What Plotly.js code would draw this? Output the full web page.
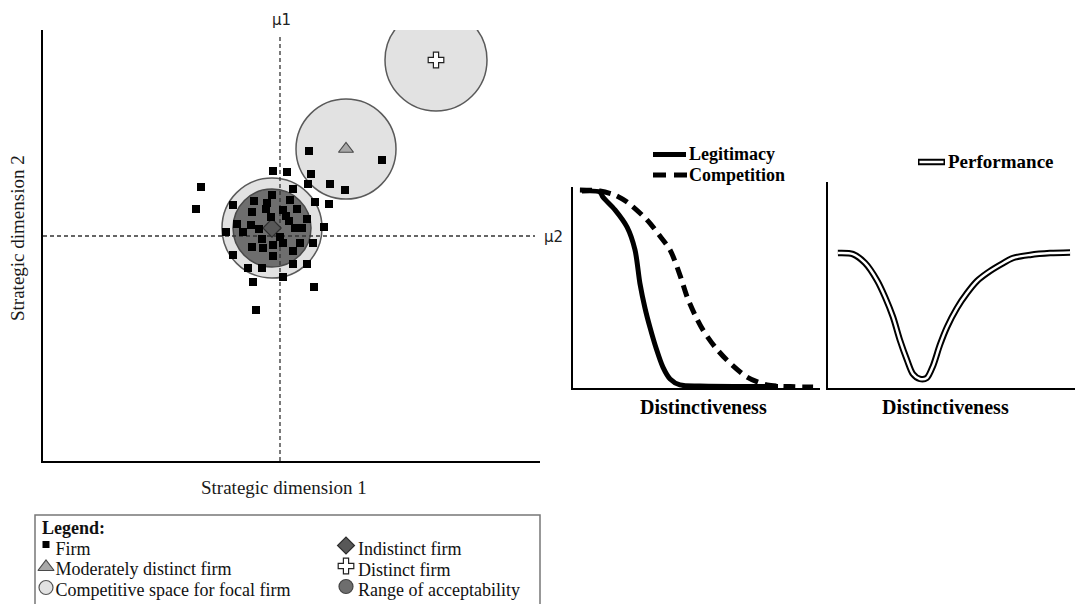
<!DOCTYPE html>
<html>
<head>
<meta charset="utf-8">
<script src="https://cdn.plot.ly/plotly-3.0.1.min.js"></script>
<style>html,body{margin:0;padding:0;background:#fff;}#chart{width:1082px;height:604px;}</style>
</head>
<body>
<div id="chart"></div>
<script>
// ---------- Data: strategic space (units: strategic dimension 1 / 2) ----------
var firmX = [53.2,67.8,46.0,48.8,53.6,53.0,57.4,60.4,50.0,31.6,30.6,38.0,42.2,45.8,49.4,54.4,57.2,44.8,44.6,41.8,48.0,50.8,45.6,48.6,52.8,38.8,41.6,40.0,43.2,49.2,50.4,51.8,56.2,36.6,43.8,47.4,48.0,51.4,54.0,41.8,44.0,46.0,50.0,38.0,46.0,41.0,43.8,50.0,52.8,48.0,42.0,54.2,42.6];
var firmY = [62.0,60.2,58.0,57.8,57.4,55.4,55.4,54.2,54.4,54.8,50.4,51.2,52.0,53.2,52.2,51.8,51.4,51.6,50.4,49.8,50.2,50.4,48.8,49.0,48.4,47.4,47.2,45.8,46.4,48.0,46.6,46.6,46.8,45.8,44.4,44.8,43.6,43.6,43.6,42.8,42.6,43.2,42.0,41.2,41.0,38.6,38.6,39.4,39.4,36.8,35.8,34.8,30.2];

var focalNames = ["Indistinct firm","Moderately distinct firm","Distinct firm"];
var focalX = [45.8, 60.6, 78.6];
var focalY = [46.6, 62.4, 80.2];
var focalSymbol = ["diamond","triangle-up","cross"];

// competitive-space circles and range of acceptability
var circleX = [45.8, 60.6, 78.6, 45.8];
var circleY = [46.6, 62.4, 80.2, 46.6];
var circleR = [10.0, 10.0, 10.2, 7.8];
var circleKind = ["space","space","space","range"];

var mu1 = 47.4;   // mean on strategic dimension 1
var mu2 = 45.0;   // mean on strategic dimension 2

// ---------- Data: distinctiveness curves ----------
var legitX = [0.36,1.09,1.21,1.70,2.19,2.51,2.71,2.91,3.12,3.36,3.64,3.93,4.33,5.14,6.5,8.3];
var legitY = [0.98,0.975,0.95,0.886,0.80,0.687,0.52,0.40,0.30,0.20,0.104,0.045,0.015,0.010,0.008,0.008];

var compX = [0.28,1.09,1.70,2.19,3.00,3.52,3.93,4.33,4.62,4.94,5.26,5.75,6.23,7.04,7.85,8.79,9.72];
var compY = [0.985,0.98,0.96,0.925,0.836,0.756,0.687,0.562,0.453,0.363,0.289,0.204,0.139,0.055,0.015,0.007,0.005];

var perfX = [0.40,1.01,1.50,1.98,2.31,2.63,2.91,3.20,3.44,3.72,4.00,4.25,4.53,4.82,5.22,5.63,6.03,6.44,6.96,7.49,8.18,8.99,9.80];
var perfY = [0.655,0.65,0.607,0.524,0.442,0.345,0.233,0.136,0.068,0.044,0.049,0.107,0.209,0.296,0.388,0.461,0.519,0.558,0.597,0.631,0.646,0.655,0.658];

// ---------- Text ----------
var xTitleMain = "Strategic dimension 1";
var yTitleMain = "Strategic dimension 2";
var muLabels = ["\u03bc1","\u03bc2"];
var curveNames = ["Legitimacy","Competition","Performance"];
var distTitle = "Distinctiveness";
var legendHeading = "Legend:";
var legendLeft = ["Firm","Moderately distinct firm","Competitive space for focal firm"];
var legendRight = ["Indistinct firm","Distinct firm","Range of acceptability"];

// ---------- Figure geometry (pixels) ----------
var W = 1082, H = 604;
function px(x){ return x / W; }
function py(y){ return 1 - y / H; }

var SERIF = "Liberation Serif, Times New Roman, serif";
var SANS = "DejaVu Sans, Liberation Sans, sans-serif";
var ROW = 20.5;               // legend row pitch in px
var BASE = ROW / 1.3;         // base font so that line pitch == ROW
var LFONT = 18;               // legend glyph font size
function big(t, sz){ return '<span style="font-size:' + sz + 'px">' + t + '</span>'; }

var traces = [];
// mu reference lines
traces.push({type:"scatter", mode:"lines", x:[mu1,mu1], y:[0,85.2], xaxis:"x", yaxis:"y",
  line:{color:"#333", width:1.3, dash:"4px,3px"}, hoverinfo:"skip", showlegend:false});
traces.push({type:"scatter", mode:"lines", x:[0,98.4], y:[mu2,mu2], xaxis:"x", yaxis:"y",
  line:{color:"#333", width:1.3, dash:"4px,3px"}, hoverinfo:"skip", showlegend:false});
// focal firms
var focalFill = ["#585858","#a8a8a8","#ffffff"];
var focalLine = ["#2e2e2e","#4a4a4a","#222"];
var focalSize = [14,13,13];
for (var i=0;i<focalX.length;i++){
  traces.push({type:"scatter", mode:"markers", name:focalNames[i], x:[focalX[i]], y:[focalY[i]], xaxis:"x", yaxis:"y",
    marker:{symbol:focalSymbol[i], size:focalSize[i], color:focalFill[i], line:{color:focalLine[i], width:1.2}}, showlegend:false});
}
// firms
traces.push({type:"scatter", mode:"markers", name:"Firm", x:firmX, y:firmY, xaxis:"x", yaxis:"y",
  marker:{symbol:"square", size:8, color:"#000"}, showlegend:false});

// curves
traces.push({type:"scatter", mode:"lines", name:curveNames[0], x:legitX, y:legitY, xaxis:"x2", yaxis:"y2",
  line:{color:"#000", width:5, shape:"spline", smoothing:0.8}, cliponaxis:false, showlegend:false});
traces.push({type:"scatter", mode:"lines", name:curveNames[1], x:compX, y:compY, xaxis:"x2", yaxis:"y2",
  line:{color:"#000", width:5, dash:"12px,7px", shape:"spline", smoothing:0.8}, cliponaxis:false, showlegend:false});
traces.push({type:"scatter", mode:"lines", name:curveNames[2], x:perfX, y:perfY, xaxis:"x3", yaxis:"y3",
  line:{color:"#000", width:6.5, shape:"spline", smoothing:0.8}, cliponaxis:false, showlegend:false});
traces.push({type:"scatter", mode:"lines", name:curveNames[2], x:perfX, y:perfY, xaxis:"x3", yaxis:"y3",
  line:{color:"#fff", width:2.5, shape:"spline", smoothing:0.8}, cliponaxis:false, showlegend:false, hoverinfo:"skip"});

// ---------- Legend glyphs (full-figure helper axis in pixels) ----------
var headY = 528;
var rowY = [headY + ROW, headY + 2*ROW, headY + 3*ROW];
var leftSymX = 46, rightSymX = 346;
var legLeftSym = [{symbol:"square",size:7,color:"#000",line:{width:0}},
                  {symbol:"triangle-up",size:14,color:"#a8a8a8",line:{color:"#4a4a4a",width:1.2}},
                  {symbol:"circle",size:14,color:"#e2e2e2",line:{color:"#555",width:1.2}}];
var legRightSym = [{symbol:"diamond",size:13,color:"#585858",line:{color:"#2e2e2e",width:1.2}},
                   {symbol:"cross",size:13,color:"#fff",line:{color:"#222",width:1.2}},
                   {symbol:"circle",size:14,color:"#6e6e6e",line:{color:"#444",width:1.2}}];
for (var k=0;k<3;k++){
  traces.push({type:"scatter", mode:"markers", x:[leftSymX], y:[rowY[k]-(k===0?4:2)], xaxis:"x4", yaxis:"y4",
    marker:legLeftSym[k], showlegend:false, hoverinfo:"skip", cliponaxis:false});
  traces.push({type:"scatter", mode:"markers", x:[rightSymX], y:[rowY[k]-3], xaxis:"x4", yaxis:"y4",
    marker:legRightSym[k], showlegend:false, hoverinfo:"skip", cliponaxis:false});
}
// curve legend samples
var legY1 = 154.5, legY2 = legY1 + ROW;
traces.push({type:"scatter", mode:"lines", x:[653,686], y:[legY1,legY1], xaxis:"x4", yaxis:"y4",
  line:{color:"#000", width:5}, showlegend:false, hoverinfo:"skip"});
traces.push({type:"scatter", mode:"lines", x:[653,687], y:[legY2,legY2], xaxis:"x4", yaxis:"y4",
  line:{color:"#000", width:5, dash:"13px,8px"}, showlegend:false, hoverinfo:"skip"});
traces.push({type:"scatter", mode:"lines", x:[918,945], y:[162,162], xaxis:"x4", yaxis:"y4",
  line:{color:"#000", width:6.5}, showlegend:false, hoverinfo:"skip"});
traces.push({type:"scatter", mode:"lines", x:[919.5,943.5], y:[162,162], xaxis:"x4", yaxis:"y4",
  line:{color:"#fff", width:2.5}, showlegend:false, hoverinfo:"skip"});

// ---------- Shapes: circles from data ----------
var shapes = [];
for (var c=0;c<circleX.length;c++){
  var isRange = circleKind[c] === "range";
  shapes.push({type:"circle", xref:"x", yref:"y", layer:"below",
    x0:circleX[c]-circleR[c], x1:circleX[c]+circleR[c], y0:circleY[c]-circleR[c], y1:circleY[c]+circleR[c],
    fillcolor: isRange ? "#6e6e6e" : "#e2e2e2", line:{color: isRange ? "#4a4a4a" : "#5a5a5a", width:1.5}});
}
// legend frame
shapes.push({type:"rect", xref:"paper", yref:"paper", x0:px(35), x1:px(540), y0:py(615), y1:py(515),
  line:{color:"#777", width:1.5}, fillcolor:"rgba(0,0,0,0)"});

// ---------- Annotations ----------
var ann = [];
function txt(t, x, y, opt){
  var a = {text:t, x:px(x), y:py(y), xref:"paper", yref:"paper", showarrow:false,
    xanchor:"center", yanchor:"middle", font:{family:SERIF, size:19, color:"#1a1a1a"}};
  for (var key in opt){ a[key] = opt[key]; }
  ann.push(a);
}
txt(muLabels[0], 281, 20, {font:{family:SANS, size:15, color:"#222"}});
txt(muLabels[1], 553, 237, {font:{family:SANS, size:15, color:"#222"}});
txt(xTitleMain, 284, 487, {font:{family:SERIF, size:19, color:"#1a1a1a"}});
txt(yTitleMain, 17, 238, {textangle:-90, font:{family:SERIF, size:19, color:"#1a1a1a"}});

// boxed legend: heading + left column in one block, right column in another
var pad = "\u00a0\u00a0\u00a0";
var leftLines = [big("<b>" + legendHeading + "</b>", LFONT)];
for (var r=0;r<legendLeft.length;r++){ leftLines.push(big(pad + legendLeft[r], LFONT)); }
txt(leftLines.join("<br>"), 40, (headY + rowY[2]) / 2, {xanchor:"left", align:"left",
  font:{family:SERIF, size:BASE, color:"#111"}});
var rightLines = [];
for (var r2=0;r2<legendRight.length;r2++){ rightLines.push(big(legendRight[r2], LFONT)); }
txt(rightLines.join("<br>"), 356, (rowY[0] + rowY[2]) / 2, {xanchor:"left", align:"left",
  font:{family:SERIF, size:BASE, color:"#111"}});

// curve legends
txt(big("<b>"+curveNames[0]+"</b>",LFONT) + "<br>" + big("<b>"+curveNames[1]+"</b>",LFONT), 687, (legY1+legY2)/2,
  {xanchor:"left", align:"left", font:{family:SERIF, size:BASE, color:"#000"}});
txt("<b>"+curveNames[2]+"</b>", 946, 162, {xanchor:"left", font:{family:SERIF, size:19, color:"#000"}});
txt("<b>"+distTitle+"</b>", 703, 407, {font:{family:SERIF, size:20, color:"#000"}});
txt("<b>"+distTitle+"</b>", 945, 407, {font:{family:SERIF, size:20, color:"#000"}});

function axisBase(domain, range, anchor){
  return {domain:domain, range:range, anchor:anchor, showline:true, linecolor:"#000", linewidth:2,
    showgrid:false, zeroline:false, showticklabels:false, ticks:"", fixedrange:true};
}

var layout = {
  width:W, height:H, margin:{l:0,r:0,t:0,b:0,pad:0},
  paper_bgcolor:"#fff", plot_bgcolor:"rgba(0,0,0,0)", showlegend:false,
  xaxis: axisBase([px(43), px(540)], [0, 99.4], "y"),
  yaxis: axisBase([py(461), py(30)], [0, 86.2], "x"),
  xaxis2: axisBase([px(573), px(820)], [0, 10], "y2"),
  yaxis2: axisBase([py(388), py(187)], [0, 1], "x2"),
  xaxis3: axisBase([px(828), px(1075)], [0, 10], "y3"),
  yaxis3: axisBase([py(388), py(182)], [0, 1], "x3"),
  xaxis4: {domain:[0,1], range:[0,W], anchor:"y4", visible:false, fixedrange:true},
  yaxis4: {domain:[0,1], range:[H,0], anchor:"x4", visible:false, fixedrange:true},
  shapes: shapes,
  annotations: ann,
  hovermode:false
};

Plotly.newPlot("chart", traces, layout, {displayModeBar:false, staticPlot:true});
</script>
</body>
</html>
